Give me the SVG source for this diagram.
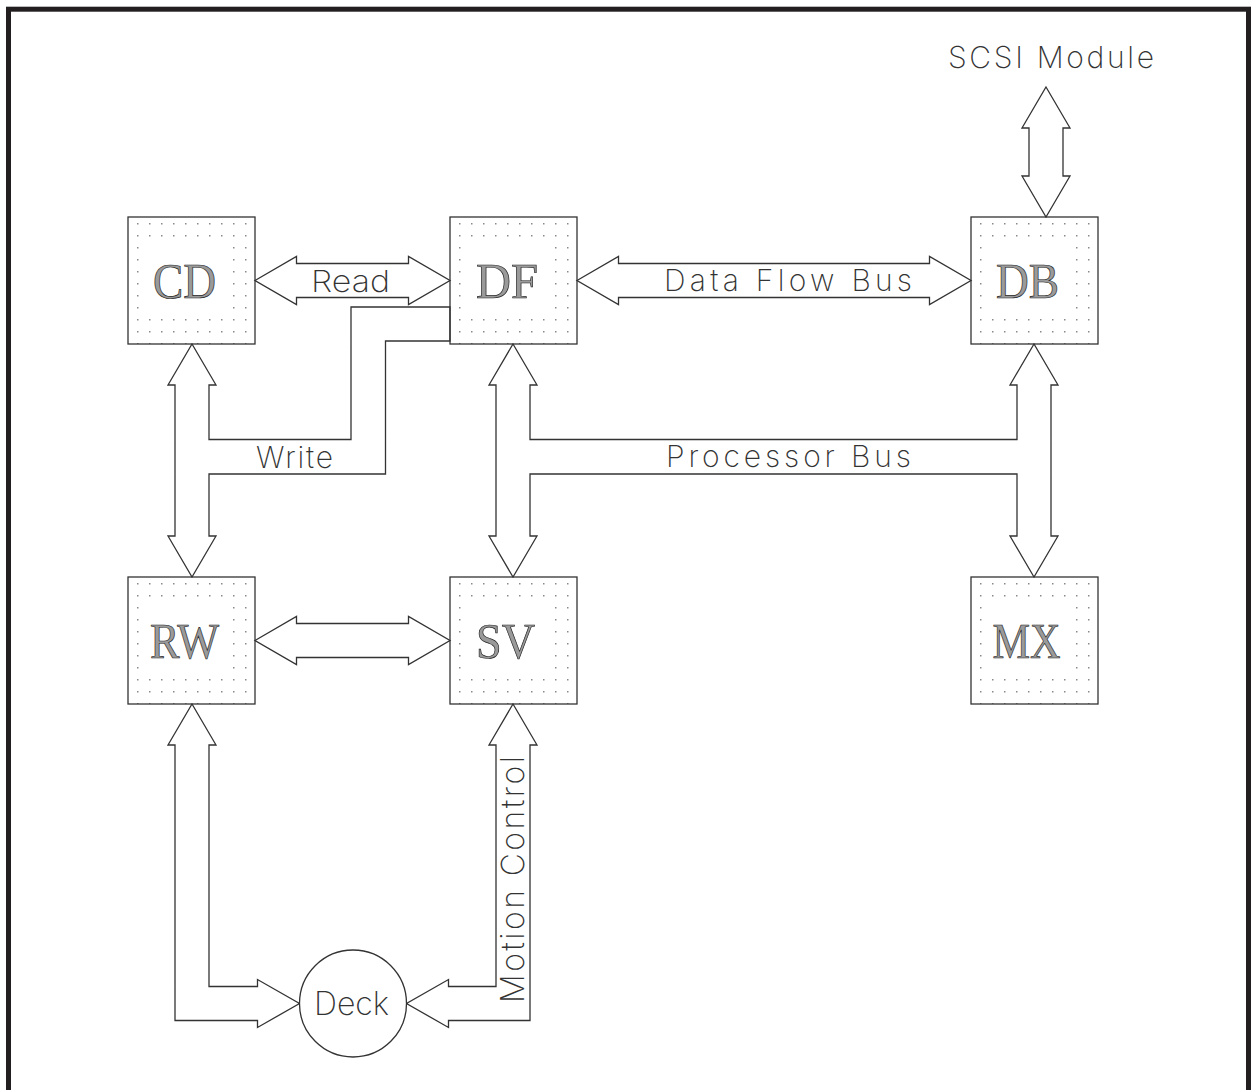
<svg xmlns="http://www.w3.org/2000/svg" width="1251" height="1090" viewBox="0 0 1251 1090">
  <style>
    .frame { fill: none; stroke: #231f20; stroke-width: 5; }
    .box { fill: url(#dots); stroke: #333; stroke-width: 1.3; }
    .blank { fill: #fff; }
    .lbl { font-family: "Liberation Serif", "DejaVu Serif", serif; font-size: 50px; fill: #9a9a9a; stroke: #222; stroke-width: 0.7; text-anchor: middle; }
    .arr { fill: #fff; stroke: #333; stroke-width: 1.3; stroke-linejoin: miter; }
    .txt { font-family: Inter, Roboto, "Liberation Sans", sans-serif; font-weight: 200; font-size: 30px; fill: #333; }
  </style>
  <defs>
    <pattern id="dots" patternUnits="userSpaceOnUse" x="9" y="6" width="12" height="12">
      <rect x="0" y="0" width="1.5" height="1.5" fill="#8a8a8a"/>
    </pattern>
  </defs>
  <rect class="frame" x="8.5" y="9.2" width="1240" height="1100"/>

  <g id="connectors">
    <polygon class="arr" points="255,280.5 296.5,256.5 296.5,263.5 408.5,263.5 408.5,256.5 450,280.5 408.5,304.5 408.5,297.5 296.5,297.5 296.5,304.5"/>
    <polygon class="arr" points="577,280.5 618.5,256.5 618.5,263.5 929.5,263.5 929.5,256.5 971,280.5 929.5,304.5 929.5,297.5 618.5,297.5 618.5,304.5"/>
    <polygon class="arr" points="1046,87 1070,128 1063,128 1063,176 1070,176 1046,217 1022,176 1029,176 1029,128 1022,128"/>
    <polygon class="arr" points="255,640.5 296.5,616.5 296.5,623.5 408.5,623.5 408.5,616.5 450,640.5 408.5,664.5 408.5,657.5 296.5,657.5 296.5,664.5"/>
    <polygon class="arr" points="192,344 216,385 209,385 209,439.5 351,439.5 351,307 450,307 450,341 385.5,341 385.5,474 209,474 209,536 216,536 192,577 168,536 175,536 175,385 168,385"/>
    <polygon class="arr" points="513,344 537,385 530,385 530,439.5 1017,439.5 1017,385 1010,385 1034,344 1058,385 1051,385 1051,536 1058,536 1034,577 1010,536 1017,536 1017,474 530,474 530,536 537,536 513,577 489,536 496,536 496,385 489,385"/>
    <polygon class="arr" points="192,704 216,745 209,745 209,986.5 257.5,986.5 257.5,979.5 299.5,1003.5 257.5,1027.5 257.5,1020.5 175,1020.5 175,745 168,745"/>
    <polygon class="arr" points="513,704 537,745 530,745 530,1020.5 448.5,1020.5 448.5,1027.5 406.5,1003.5 448.5,979.5 448.5,986.5 496,986.5 496,745 489,745"/>
    <text class="txt" x="311" y="291.5" textLength="79" lengthAdjust="spacingAndGlyphs">Read</text>
    <text class="txt" x="664" y="291" textLength="248" lengthAdjust="spacing">Data Flow Bus</text>
    <text class="txt" x="256" y="468" textLength="77" lengthAdjust="spacing">Write</text>
    <text class="txt" x="666" y="467" textLength="245" lengthAdjust="spacing">Processor Bus</text>
    <text class="txt" x="948" y="68" textLength="206" lengthAdjust="spacing">SCSI Module</text>
    <text class="txt" transform="translate(524,1003) rotate(-90)" x="0" y="0" style="font-size:32px" textLength="247" lengthAdjust="spacing">Motion Control</text>
  </g>

  <g id="CD" transform="translate(128,217)">
    <rect class="box" width="127" height="127"/>
    <rect class="blank" x="15" y="24" width="84" height="72"/>
    <text class="lbl" x="56.5" y="81" textLength="63" lengthAdjust="spacingAndGlyphs">CD</text>
  </g>
  <g id="DF" transform="translate(450,217)">
    <rect class="box" width="127" height="127"/>
    <rect class="blank" x="15" y="24" width="84" height="72"/>
    <text class="lbl" x="57" y="81" textLength="62" lengthAdjust="spacingAndGlyphs">DF</text>
  </g>
  <g id="DB" transform="translate(971,217)">
    <rect class="box" width="127" height="127"/>
    <rect class="blank" x="15" y="24" width="84" height="72"/>
    <text class="lbl" x="56.5" y="81" textLength="63" lengthAdjust="spacingAndGlyphs">DB</text>
  </g>
  <g id="RW" transform="translate(128,577)">
    <rect class="box" width="127" height="127"/>
    <rect class="blank" x="15" y="24" width="84" height="72"/>
    <text class="lbl" x="56.5" y="81" textLength="69" lengthAdjust="spacingAndGlyphs">RW</text>
  </g>
  <g id="SV" transform="translate(450,577)">
    <rect class="box" width="127" height="127"/>
    <rect class="blank" x="15" y="24" width="84" height="72"/>
    <text class="lbl" x="55.5" y="81" textLength="59" lengthAdjust="spacingAndGlyphs">SV</text>
  </g>
  <g id="MX" transform="translate(971,577)">
    <rect class="box" width="127" height="127"/>
    <rect class="blank" x="15" y="24" width="84" height="72"/>
    <text class="lbl" x="55.5" y="81" textLength="68" lengthAdjust="spacingAndGlyphs">MX</text>
  </g>
  <g id="Deck">
    <circle cx="353" cy="1003.5" r="53.5" fill="#fff" stroke="#333" stroke-width="1.3"/>
    <text class="txt" x="314" y="1015" style="font-size:32px" textLength="75" lengthAdjust="spacing">Deck</text>
  </g>
</svg>
